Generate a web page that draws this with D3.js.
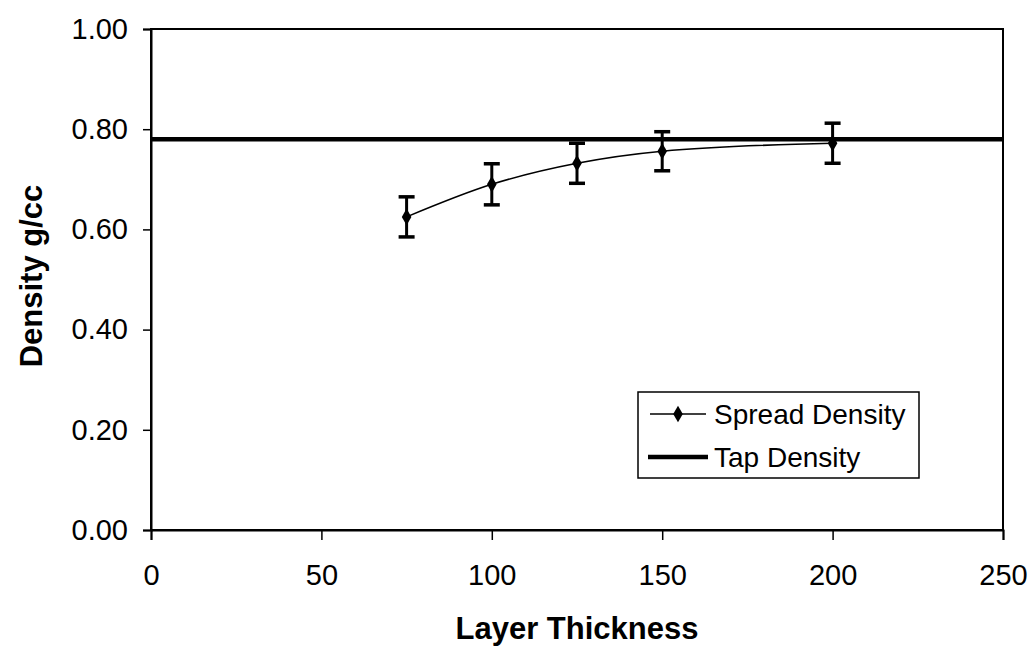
<!DOCTYPE html>
<html><head><meta charset="utf-8">
<script src="https://cdn.jsdelivr.net/npm/d3@7"></script>
<style>body{margin:0;background:#fff}svg{display:block}</style>
</head><body>
<script>
const thickness = [75, 100, 125, 150, 200];
const spreadDensity = [0.625, 0.69, 0.732, 0.756, 0.772];
const spreadError = [0.04, 0.041, 0.04, 0.039, 0.04];
const tapDensity = 0.78;
const xTicks = [0, 50, 100, 150, 200, 250];
const yTicks = [0, 0.2, 0.4, 0.6, 0.8, 1.0];
const seriesNames = ["Spread Density", "Tap Density"];

const W = 1035, H = 648;
const svg = d3.select("body").append("svg").attr("width", W).attr("height", H);
const x = d3.scaleLinear().domain([0, 250]).range([151, 1003]);
const y = d3.scaleLinear().domain([0, 1]).range([530, 29]);
const font = "'Liberation Sans', Arial, sans-serif";

// frame
svg.append("rect").attr("x", x(0)).attr("y", y(1)).attr("width", x(250) - x(0)).attr("height", y(0) - y(1))
  .attr("fill", "none").attr("stroke", "#000").attr("stroke-width", 2);

// y axis
const ya = svg.append("g").attr("transform", `translate(${x(0)},0)`)
  .call(d3.axisLeft(y).tickValues(yTicks).tickFormat(d3.format(".2f")).tickSize(8).tickPadding(15));
ya.select(".domain").attr("stroke-width", 2);
ya.selectAll("line").attr("stroke-width", 1.5);
ya.selectAll("text").attr("font-family", font).attr("font-size", 29).attr("fill", "#000");

// x axis
const xa = svg.append("g").attr("transform", `translate(0,${y(0)})`)
  .call(d3.axisBottom(x).tickValues(xTicks).tickSize(10).tickPadding(24));
xa.select(".domain").attr("stroke-width", 2);
xa.selectAll("line").attr("stroke-width", 1.5);
xa.selectAll("text").attr("font-family", font).attr("font-size", 29).attr("fill", "#000");

// axis titles
svg.append("text").attr("x", 577).attr("y", 639).attr("text-anchor", "middle")
  .attr("font-family", font).attr("font-weight", "bold").attr("font-size", 31).text("Layer Thickness");
svg.append("text").attr("transform", "translate(42,276) rotate(-90)").attr("text-anchor", "middle")
  .attr("font-family", font).attr("font-weight", "bold").attr("font-size", 31).text("Density g/cc");

// tap density line
svg.append("line").attr("x1", x(0)).attr("x2", x(250)).attr("y1", y(tapDensity)).attr("y2", y(tapDensity))
  .attr("stroke", "#000").attr("stroke-width", 4.5);

// spread density line
const pts = thickness.map((t, i) => [t, spreadDensity[i], spreadError[i]]);
svg.append("path").datum(pts)
  .attr("d", d3.line().x(d => x(d[0])).y(d => y(d[1])).curve(d3.curveMonotoneX))
  .attr("fill", "none").attr("stroke", "#000").attr("stroke-width", 1.6);

// error bars
const eb = svg.append("g");
pts.forEach(d => {
  const cx = x(d[0]);
  eb.append("line").attr("x1", cx).attr("x2", cx).attr("y1", y(d[1] + d[2])).attr("y2", y(d[1] - d[2]))
    .attr("stroke", "#000").attr("stroke-width", 3);
  [d[1] + d[2], d[1] - d[2]].forEach(v => {
    eb.append("line").attr("x1", cx - 8).attr("x2", cx + 8).attr("y1", y(v)).attr("y2", y(v))
      .attr("stroke", "#000").attr("stroke-width", 3.5);
  });
});

// markers
const diamond = d3.symbol().type(d3.symbolDiamond).size(80);
svg.append("g").selectAll("path").data(pts).join("path")
  .attr("transform", d => `translate(${x(d[0])},${y(d[1])})`).attr("d", diamond).attr("fill", "#000");

// legend
const lg = svg.append("g");
lg.append("rect").attr("x", 638).attr("y", 392).attr("width", 281).attr("height", 86)
  .attr("fill", "#fff").attr("stroke", "#000").attr("stroke-width", 1.5);
lg.append("line").attr("x1", 650).attr("x2", 706).attr("y1", 414).attr("y2", 414).attr("stroke", "#000").attr("stroke-width", 1.6);
lg.append("path").attr("transform", "translate(678,414)").attr("d", diamond).attr("fill", "#000");
lg.append("line").attr("x1", 648).attr("x2", 708).attr("y1", 457).attr("y2", 457).attr("stroke", "#000").attr("stroke-width", 4.5);
lg.selectAll("text.l").data(seriesNames).join("text").attr("class", "l")
  .attr("x", 714).attr("y", (d, i) => 414 + i * 43).attr("dy", "0.35em")
  .attr("font-family", font).attr("font-size", 28).text(d => d);
</script>
</body></html>
